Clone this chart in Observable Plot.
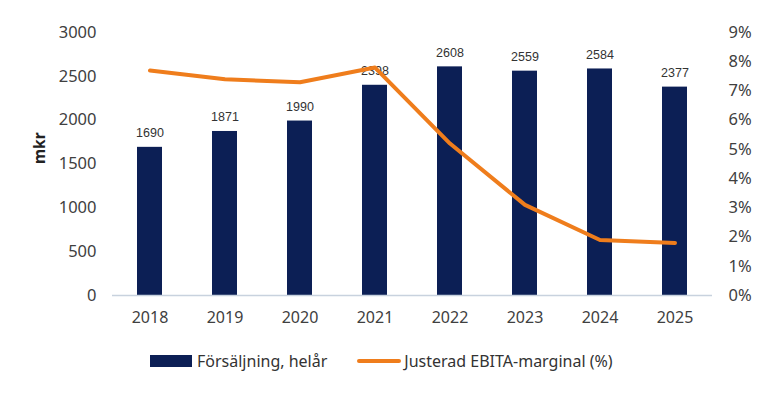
<!DOCTYPE html>
<html><head><meta charset="utf-8">
<script src="https://cdn.jsdelivr.net/npm/d3@7"></script>
<script src="https://cdn.jsdelivr.net/npm/@observablehq/plot@0.6"></script>
<style>
body{margin:0;background:#fff;font-family:"Noto Sans",sans-serif;}
#legend{display:flex;gap:0;align-items:center;margin-left:150px;margin-top:20px;font-size:16px;color:#333;}
.item{display:flex;align-items:center;}
.sw{width:42px;height:12px;background:#0c1f55;margin-right:5px;}
.ln{width:44px;height:4px;background:#ef7d1c;margin-right:3px;border-radius:2px;}
</style></head><body>
<div id="chart"></div>
<div id="legend">
  <div class="item" style="margin-right:30px"><div class="sw"></div><span>Försäljning, helår</span></div>
  <div class="item"><div class="ln"></div><span>Justerad EBITA-marginal (%)</span></div>
</div>
<script>
const years = ["2018","2019","2020","2021","2022","2023","2024","2025"];
const sales = [1690,1871,1990,2398,2608,2559,2584,2377];
const margin = [7.7,7.4,7.3,7.8,5.2,3.1,1.9,1.8];
const leftTicks = [0,500,1000,1500,2000,2500,3000];
const pctTicks = [0,1,2,3,4,5,6,7,8,9];
const yMax = 3000, pMax = 9;
const k = yMax / pMax;

const data = years.map((y,i)=>({year:y, sales:sales[i], margin:margin[i]}));

const chart = Plot.plot({
  width: 777, height: 330,
  marginTop: 32, marginBottom: 35, marginLeft: 112, marginRight: 65,
  style: {fontFamily: '"Noto Sans", sans-serif', fontSize: "16px", color: "#404040", background: "#fff"},
  x: {domain: years, paddingInner: 0.667, paddingOuter: 0.333, label: null},
  y: {domain: [0, yMax], label: null},
  marks: [
    Plot.barY(data, {x: "year", y: "sales", fill: "#0c1f55"}),
    Plot.ruleY([0], {stroke: "#c8d2de", strokeWidth: 1.5}),
    Plot.text(data, {x: "year", y: "sales", text: d => String(d.sales), dy: -14, fontSize: 12.5, fill: "#333", fontFamily: '"Liberation Sans", sans-serif'}),
    Plot.line(data, {x: "year", y: d => d.margin * k, stroke: "#ef7d1c", strokeWidth: 4, strokeLinejoin: "round", strokeLinecap: "round"}),
    Plot.axisX({tickSize: 0, tickPadding: 16, fontSize: 16, label: null}),
    Plot.axisY(leftTicks, {anchor: "left", tickSize: 0, tickPadding: 16, fontSize: 16.5, label: null, tickFormat: v => String(v)}),
    Plot.axisY(pctTicks.map(p => p * k), {anchor: "right", tickSize: 0, tickPadding: 16, fontSize: 16.5, label: null, tickFormat: v => Math.round(v / k) + "%"}),
    Plot.text(["mkr"], {frameAnchor: "left", dx: -72, rotate: -90, fontWeight: "bold", fontSize: 15.5, fill: "#222"})
  ]
});
document.getElementById("chart").append(chart);
</script>
</body></html>
